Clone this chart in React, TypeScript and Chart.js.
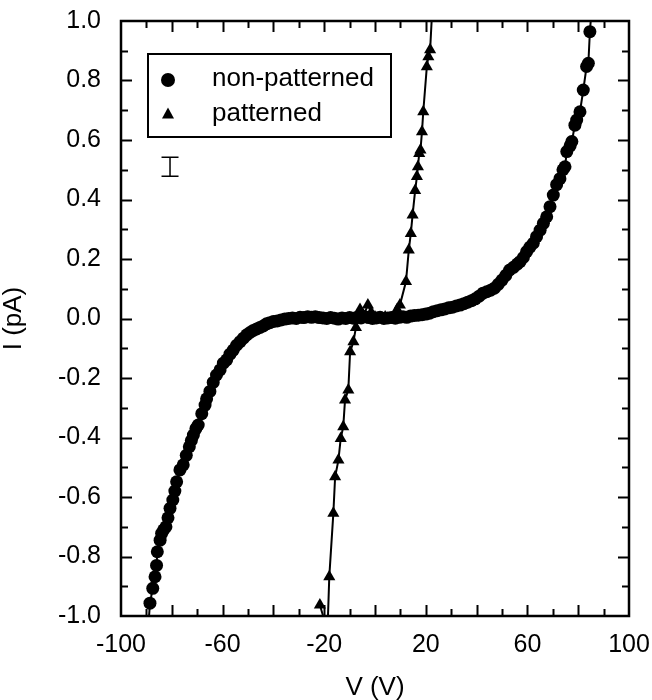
import { useEffect, useRef } from "react";
import { Chart, registerables } from "chart.js";
Chart.register(...registerables);

// ---- data ----
const seriesLabels = ["non-patterned", "patterned"];
const xTicks = [-100, -60, -20, 20, 60, 100];
const yTicks = [-1.0, -0.8, -0.6, -0.4, -0.2, 0.0, 0.2, 0.4, 0.6, 0.8, 1.0];
const xTitle = "V (V)";
const yTitle = "I (pA)";

const npV = [
  -89.2, -88.6, -87.5, -86.6, -86.0, -85.7, -84.6, -84.0, -83.2, -82.3,
  -81.5, -80.7, -79.6, -78.8, -78.1, -76.8, -75.5, -74.3, -73.1, -72.3,
  -71.5, -70.5, -69.6, -68.2, -66.9, -66.3, -65.0, -63.7, -62.4, -61.0,
  -59.7, -58.4, -57.1, -55.8, -54.5, -53.1, -51.8, -50.5, -49.2, -47.9,
  -46.6, -45.3, -44.0, -42.7, -41.4, -40.0, -38.5, -37.0, -35.5, -34.0,
  -32.5, -31.0, -29.5, -28.0, -26.5, -25.0, -23.5, -22.0, -20.5, -19.0,
  -17.5, -16.0, -14.5, -13.0, -11.5, -10.0, -8.5, -7.0, -5.5, -4.0,
  -2.5, -1.0, 0.5, 2.0, 3.5, 5.0, 6.5, 8.0, 9.5, 11.0,
  12.5, 14.0, 15.5, 17.0, 18.5, 20.0, 21.5, 23.0, 24.5, 26.0,
  27.5, 29.0, 30.5, 32.0, 33.5, 35.0, 36.5, 38.0, 39.5, 41.0,
  42.5, 44.0, 45.5, 47.0, 48.5, 50.0, 51.5, 53.0, 54.5, 56.0,
  57.1, 58.4, 59.7, 61.0, 62.3, 63.6, 65.0, 66.3, 67.6, 68.9,
  70.2, 71.5, 72.8, 74.0, 74.8, 75.5, 76.8, 77.5, 78.7, 79.4,
  80.7, 82.0, 83.3, 84.0, 84.6, 85.3,
];
const npI = [
  -1.03, -0.957, -0.907, -0.868, -0.83, -0.784, -0.745, -0.722, -0.71, -0.7,
  -0.67, -0.638, -0.61, -0.58, -0.549, -0.509, -0.492, -0.46, -0.431, -0.41,
  -0.392, -0.37, -0.358, -0.32, -0.291, -0.27, -0.245, -0.215, -0.19, -0.173,
  -0.15, -0.139, -0.12, -0.106, -0.09, -0.078, -0.066, -0.055, -0.047, -0.04,
  -0.035, -0.03, -0.025, -0.018, -0.014, -0.01, -0.008, -0.005, -0.002, 0.0,
  0.002, 0.0, 0.004, 0.003, 0.006, 0.004, 0.006, 0.003, 0.002, 0.0,
  0.003, 0.001, -0.002, 0.002, 0.0, 0.003, 0.001, 0.004, 0.002, 0.006,
  0.003, 0.0, 0.002, 0.004, 0.0, 0.002, 0.003, 0.001, 0.004, 0.006,
  0.004, 0.008, 0.01, 0.011, 0.013, 0.015, 0.018, 0.023, 0.026, 0.029,
  0.032, 0.036, 0.038, 0.042, 0.045, 0.05, 0.055, 0.06, 0.066, 0.075,
  0.085, 0.09, 0.095, 0.102, 0.115, 0.129, 0.145, 0.163, 0.172, 0.183,
  0.191, 0.205, 0.225, 0.24, 0.253, 0.275, 0.297, 0.32, 0.342, 0.376,
  0.415, 0.45, 0.47, 0.5, 0.51, 0.561, 0.58, 0.595, 0.65, 0.667,
  0.695, 0.768, 0.847, 0.858, 0.964, 1.04,
];

const pV = [
  -21.7, -18.7, -18.0, -16.4, -15.7, -14.4, -13.5, -12.5, -11.8, -10.5,
  -9.8, -8.5, -7.5, -5.9, -4.5, -2.8, -1.5, 0.0, 2.0, 4.0,
  6.0, 8.7, 9.8, 12.2, 13.3, 14.1, 14.8, 15.8, 16.5, 16.9,
  17.4, 17.9, 18.5, 19.0, 20.4, 21.0, 21.7, 22.6,
];
const pI = [
  -0.963, -1.05, -0.868, -0.655, -0.532, -0.476, -0.403, -0.364, -0.274, -0.24,
  -0.112, -0.078, -0.03, 0.03, 0.01, 0.045, 0.02, 0.005, 0.0, 0.005,
  0.0, 0.03, 0.045, 0.124, 0.23, 0.286, 0.348, 0.43, 0.477, 0.51,
  0.555, 0.566, 0.628, 0.695, 0.846, 0.88, 0.903, 1.05,
];

// representative error bar
const errV = [-80.7];
const errI = [0.51];
const errHalf = [0.032];

const FONT = '"Liberation Sans", Arial, Helvetica, sans-serif';

const framePlugin = {
  id: "frameTicks",
  afterDatasetsDraw(chart: any) {
    const { ctx, chartArea: a, scales } = chart;
    const xs = scales.x;
    const ys = scales.y;
    ctx.save();
    ctx.strokeStyle = "#000";
    // inner ticks
    ctx.lineWidth = 2;
    for (let v = -100; v <= 100; v += 10) {
      if (v === -100 || v === 100) continue;
      const px = Math.round(xs.getPixelForValue(v)) + 0.5;
      const len = v % 20 === 0 ? 11 : 7;
      ctx.beginPath();
      ctx.moveTo(px, a.bottom);
      ctx.lineTo(px, a.bottom - len);
      ctx.moveTo(px, a.top);
      ctx.lineTo(px, a.top + len);
      ctx.stroke();
    }
    for (let k = -9; k <= 9; k++) {
      const py = Math.round(ys.getPixelForValue(k / 10)) + 0.5;
      const len = k % 2 === 0 ? 11 : 7;
      ctx.beginPath();
      ctx.moveTo(a.left, py);
      ctx.lineTo(a.left + len, py);
      ctx.moveTo(a.right, py);
      ctx.lineTo(a.right - len, py);
      ctx.stroke();
    }
    // frame
    ctx.lineWidth = 2.5;
    ctx.strokeRect(a.left, a.top, a.right - a.left, a.bottom - a.top);

    // error bar
    ctx.lineWidth = 1.5;
    for (let i = 0; i < errV.length; i++) {
      const ex = xs.getPixelForValue(errV[i]);
      const et = ys.getPixelForValue(errI[i] + errHalf[i]);
      const eb = ys.getPixelForValue(errI[i] - errHalf[i]);
      ctx.beginPath();
      ctx.moveTo(ex, et);
      ctx.lineTo(ex, eb);
      ctx.moveTo(ex - 8.5, et);
      ctx.lineTo(ex + 8.5, et);
      ctx.moveTo(ex - 8.5, eb);
      ctx.lineTo(ex + 8.5, eb);
      ctx.stroke();
    }

    // legend box
    const lx = a.left + 27;
    const ly = a.top + 33;
    const lw = 243;
    const lh = 83;
    ctx.lineWidth = 2;
    ctx.fillStyle = "#fff";
    ctx.fillRect(lx, ly, lw, lh);
    ctx.strokeRect(lx, ly, lw, lh);
    ctx.fillStyle = "#000";
    // circle marker
    ctx.beginPath();
    ctx.arc(lx + 20, ly + 26, 7, 0, Math.PI * 2);
    ctx.fill();
    // triangle marker
    const tx = lx + 20;
    const ty = ly + 60;
    ctx.beginPath();
    ctx.moveTo(tx, ty - 6.5);
    ctx.lineTo(tx + 6, ty + 4.5);
    ctx.lineTo(tx - 6, ty + 4.5);
    ctx.closePath();
    ctx.fill();
    ctx.font = `26px ${FONT}`;
    ctx.textAlign = "left";
    ctx.textBaseline = "alphabetic";
    ctx.fillText(seriesLabels[0], lx + 64, ly + 32);
    ctx.fillText(seriesLabels[1], lx + 64, ly + 67);
    ctx.restore();
  },
};

const inRange = (c: any) => {
  const r = c.raw;
  if (!r) return 0;
  return r.y > 1 || r.y < -1 ? 0 : 1;
};

export default function App() {
  const ref = useRef<HTMLCanvasElement | null>(null);
  useEffect(() => {
    document.body.style.margin = "0";
    const canvas = ref.current;
    if (!canvas) return;
    const tickFont = { family: FONT, size: 25 };
    const chart = new Chart(canvas, {
      type: "scatter",
      data: {
        datasets: [
          {
            label: seriesLabels[0],
            data: npV.map((v, i) => ({ x: v, y: npI[i] })),
            showLine: true,
            borderColor: "#000",
            borderWidth: 2,
            backgroundColor: "#000",
            pointBackgroundColor: "#000",
            pointBorderWidth: 0,
            pointStyle: "circle",
            pointRadius: (c: any) => 6.5 * inRange(c),
            clip: 0,
          },
          {
            label: seriesLabels[1],
            data: pV.map((v, i) => ({ x: v, y: pI[i] })),
            showLine: true,
            borderColor: "#000",
            borderWidth: 2,
            backgroundColor: "#000",
            pointBackgroundColor: "#000",
            pointBorderWidth: 0,
            pointStyle: "triangle",
            pointRadius: (c: any) => 7 * inRange(c),
            clip: 0,
          },
        ],
      },
      options: {
        responsive: false,
        animation: false,
        layout: { autoPadding: false, padding: { left: 0, right: 23, top: 21, bottom: 0 } },
        plugins: { legend: { display: false }, tooltip: { enabled: false } },
        scales: {
          x: {
            type: "linear",
            min: -100,
            max: 100,
            afterBuildTicks: (s: any) => {
              s.ticks = xTicks.map((v) => ({ value: v }));
            },
            afterFit: (s: any) => {
              s.height = 84;
              s.paddingLeft = 0;
              s.paddingRight = 0;
              s.paddingTop = 0;
              s.paddingBottom = 0;
            },
            grid: { display: false, drawTicks: false },
            border: { display: false },
            ticks: {
              font: tickFont,
              color: "#000",
              padding: 14,
              maxRotation: 0,
              autoSkip: false,
              callback: (v: any) => String(v),
            },
            title: {
              display: true,
              text: xTitle,
              font: { family: FONT, size: 26 },
              color: "#000",
              padding: { top: 0, bottom: -3 },
            },
          },
          y: {
            type: "linear",
            min: -1,
            max: 1,
            afterBuildTicks: (s: any) => {
              s.ticks = yTicks.map((v) => ({ value: v }));
            },
            afterFit: (s: any) => {
              s.width = 121;
              s.paddingLeft = 0;
              s.paddingRight = 0;
              s.paddingTop = 0;
              s.paddingBottom = 0;
            },
            grid: { display: false, drawTicks: false },
            border: { display: false },
            ticks: {
              font: tickFont,
              color: "#000",
              padding: 20,
              autoSkip: false,
              callback: (v: any) => Number(v).toFixed(1),
            },
            title: {
              display: true,
              text: yTitle,
              font: { family: FONT, size: 26 },
              color: "#000",
              padding: { top: -2, bottom: 0 },
            },
          },
        },
      },
      plugins: [framePlugin],
    } as any);
    return () => chart.destroy();
  }, []);
  return (
    <div style={{ width: 652, height: 700, background: "#fff" }}>
      <canvas ref={ref} width={652} height={700} />
    </div>
  );
}
